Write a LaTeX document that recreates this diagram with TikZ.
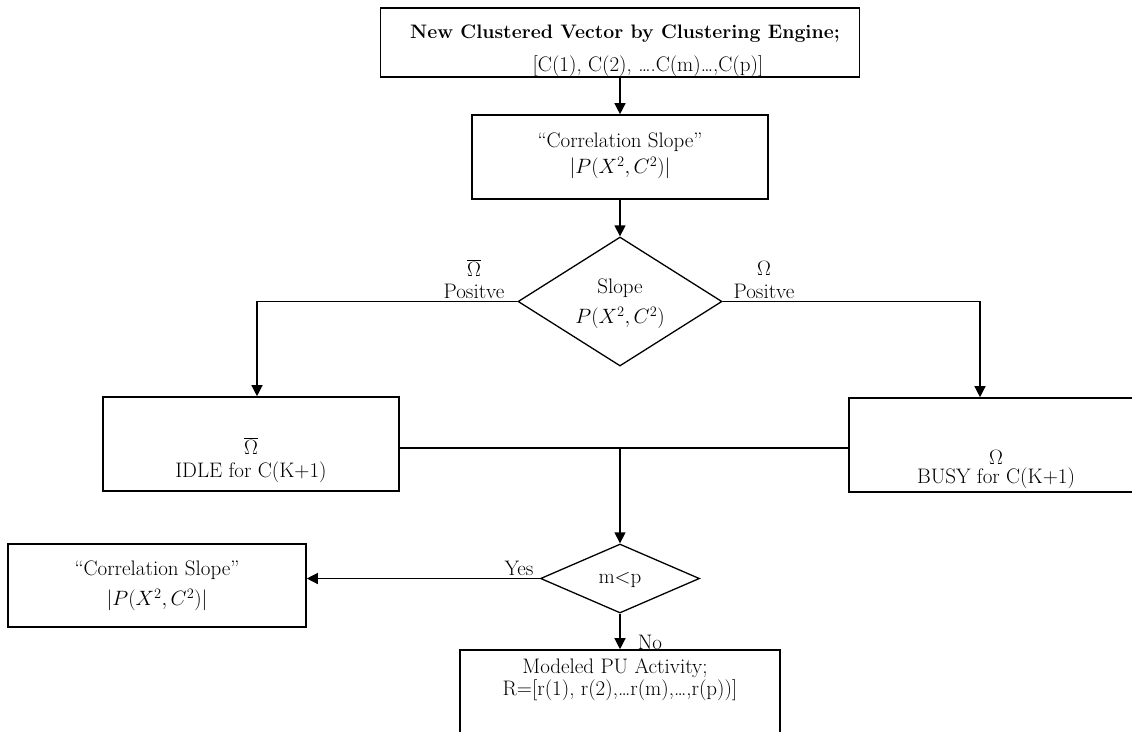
\documentclass[tikz,border=0pt]{standalone}
\usetikzlibrary{arrows.meta,shapes.geometric}
\begin{document}
\begin{tikzpicture}[x=1pt,y=-1pt,
  box/.style={draw,line width=1.6pt,inner sep=0pt,rectangle},
  dia/.style={draw,line width=1.3pt,inner sep=0pt,diamond},
  txt/.style={inner sep=0pt,font=\fontsize{21}{24}\selectfont},
  conn/.style={line width=1.3pt},
  arr/.style={conn,-{Triangle[width=11pt,length=11pt]}}]
\useasboundingbox (0,0) rectangle (1132,731);
\clip (0,0) rectangle (1132,731);
% boxes
\node[box,minimum width=479pt,minimum height=69pt] (top) at (620,42.5) {};
\node[box,minimum width=296pt,minimum height=84pt] (corr) at (620,157) {};
\node[dia,minimum width=204pt,minimum height=129pt] (d1) at (620,301.5) {};
\node[box,minimum width=296pt,minimum height=94pt] (idle) at (251,444) {};
\node[box,minimum width=292pt,minimum height=94pt] (busy) at (995,445) {};
\node[box,minimum width=298pt,minimum height=83pt] (corr2) at (157,585.5) {};
\node[dia,minimum width=159pt,minimum height=69pt] (d2) at (620,578.5) {};
\node[box,minimum width=320pt,minimum height=110pt] (out) at (620,705) {};
% texts
\node[txt,font=\fontsize{19.5}{22}\selectfont\bfseries] (t1) at (625,34) {New Clustered Vector by Clustering Engine;};
\node[txt] (t2) at (648,66) {[C(1), C(2), ….C(m)…,C(p)]};
\node[txt] (c1) at (620,142) {“Correlation Slope”};
\node[txt] (c2) at (620,168) {$|P(X^2,C^2)|$};
\node[txt] (s1) at (620,288) {Slope};
\node[txt] (s2) at (620,318) {$P(X^2,C^2)$};
\node[txt] (lo) at (474,268) {$\overline{\Omega}$};
\node[txt] (lp) at (474,291) {Positve};
\node[txt] (ro) at (764,268) {$\Omega$};
\node[txt] (rp) at (764,291) {Positve};
\node[txt] (io) at (251,446) {$\overline{\Omega}$};
\node[txt] (it) at (251,472) {IDLE for C(K+1)};
\node[txt] (bo) at (996,457) {$\Omega$};
\node[txt] (bt) at (996,478) {BUSY for C(K+1)};
\node[txt] (k1) at (157,570) {“Correlation Slope”};
\node[txt] (k2) at (157,600) {$|P(X^2,C^2)|$};
\node[txt] (mp) at (620,580) {m<p};
\node[txt] (yes) at (519,568) {Yes};
\node[txt] (no) at (650,642) {No};
\node[txt] (o1) at (615,668) {Modeled PU Activity;};
\node[txt] (o2) at (620,690) {R=[r(1), r(2),…r(m),…,r(p))]};
% connectors
\coordinate (j) at (620,448);
\draw[arr] (top.south) -- (corr.north);
\draw[arr] (corr.south) -- (d1.north);
\draw[arr] (d1.west) -| ([xshift=6pt]idle.north);
\draw[arr] (d1.east) -| ([xshift=-15pt]busy.north);
\draw[conn] (idle.east |- j) -- (busy.west |- j);
\draw[arr] (j) -- (d2.north);
\draw[arr] (d2.west) -- (d2.west -| corr2.east);
\draw[arr] (d2.south) -- (out.north);
\end{tikzpicture}
\end{document}
